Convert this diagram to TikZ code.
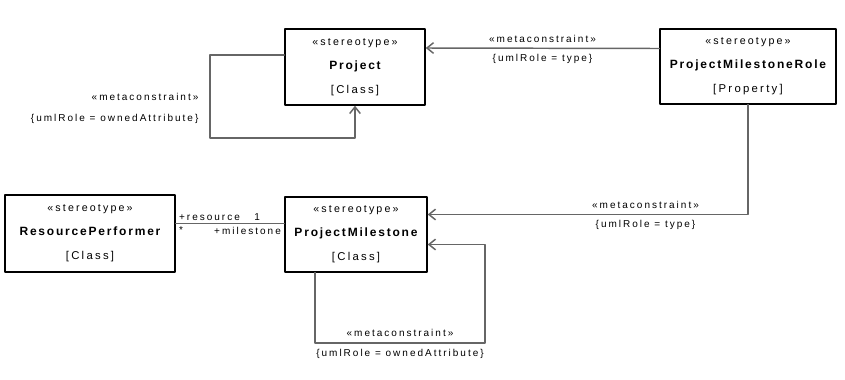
\documentclass[tikz,border=0pt]{standalone}
\usepackage{fontspec}
\setmainfont{Liberation Sans}
\newfontfamily\stereofont[LetterSpace=20]{Liberation Sans}
\newfontfamily\namefont[LetterSpace=15]{Liberation Sans}
\usetikzlibrary{arrows.meta,calc}

% three lines of a stereotype box
\newcommand{\stereobox}[2]{%
  {\stereofont\fontsize{8}{18}\selectfont «stereotype»}\\
  {\namefont\bfseries\fontsize{9}{18}\selectfont #1}\\
  {\stereofont\fontsize{8.5}{18}\selectfont [#2]}}

\tikzset{
  classbox/.style={draw=black, line width=1.1pt, rectangle, inner sep=0pt,
    align=center, font=\fontsize{8}{18}\selectfont},
  link/.style={draw=black!60, line width=1.1pt},
  dep/.style={link, -{Straight Barb[length=5pt,width=8pt]}},
  edgelbl/.style={font=\stereofont\fontsize{7.5}{9}\selectfont, inner sep=4pt}
}

\begin{document}
\begin{tikzpicture}[
    x=0.75pt, y=-0.75pt,
    line cap=round,
    line join=round
]
\useasboundingbox (0,0) rectangle (845,379);

% -----------------------
% Boxes
% -----------------------
\node[classbox, minimum width=105pt, minimum height=57pt] (project) at (355,67)
  {\stereobox{Project}{Class}};
\node[classbox, minimum width=132pt, minimum height=56pt] (pmrole) at (748,66.5)
  {\stereobox{ProjectMilestoneRole}{Property}};
\node[classbox, minimum width=127.5pt, minimum height=58pt] (resource) at (90,233.5)
  {\stereobox{ResourcePerformer}{Class}};
\node[classbox, minimum width=106.5pt, minimum height=56pt] (pmilestone) at (356,234.5)
  {\stereobox{ProjectMilestone}{Class}};

% -----------------------
% Coordinates
% -----------------------
\coordinate (pj out) at ($(project.west)+(0,-12)$);
\coordinate (pj loop) at (210,138);
\coordinate (pm in) at ($(pmilestone.east)+(0,-20)$);
\coordinate (pm back) at ($(pmilestone.east)+(0,10)$);
\coordinate (pm out) at ($(pmilestone.south)+(-41,0)$);
\coordinate (pm loop a) at (315,343);
\coordinate (pm loop b) at (485,343);
\coordinate (assoc) at ($(resource.east)+(0,-10)$);

% -----------------------
% Role -> Project
% -----------------------
\draw[dep] ($(pmrole.west)+(0,-18)$) --
  node[edgelbl, above] {«metaconstraint»}
  node[edgelbl, below] {\{umlRole = type\}}
  ($(project.east)+(0,-19)$);

% -----------------------
% Project self loop
% -----------------------
\draw[dep] (pj out) -| (pj loop) -| (project.south);
\node[edgelbl, anchor=east] (pj lbl a) at (204,97) {«metaconstraint»};
\node[edgelbl, anchor=east] (pj lbl b) at (204,119) {\{umlRole = ownedAttribute\}};

% -----------------------
% Role -> Milestone
% -----------------------
\draw[dep] (pmrole.south) |-
  node[edgelbl, above, pos=0.66] {«metaconstraint»}
  node[edgelbl, below, pos=0.66] {\{umlRole = type\}}
  (pm in);

% -----------------------
% Milestone self loop
% -----------------------
\draw[dep] (pm out) -- (pm loop a) --
  node[edgelbl, above] {«metaconstraint»}
  node[edgelbl, below] {\{umlRole = ownedAttribute\}}
  (pm loop b) |- (pm back);

% -----------------------
% Association
% -----------------------
\draw[link] (assoc) --
  node[edgelbl, pos=0, above right, inner sep=2pt] {+resource}
  node[edgelbl, pos=0.75, above, inner sep=2pt] {1}
  node[edgelbl, pos=0, below right, inner sep=2pt] {*}
  node[edgelbl, pos=1, below left, inner sep=2pt] {+milestone}
  (assoc -| pmilestone.west);

\end{tikzpicture}
\end{document}
